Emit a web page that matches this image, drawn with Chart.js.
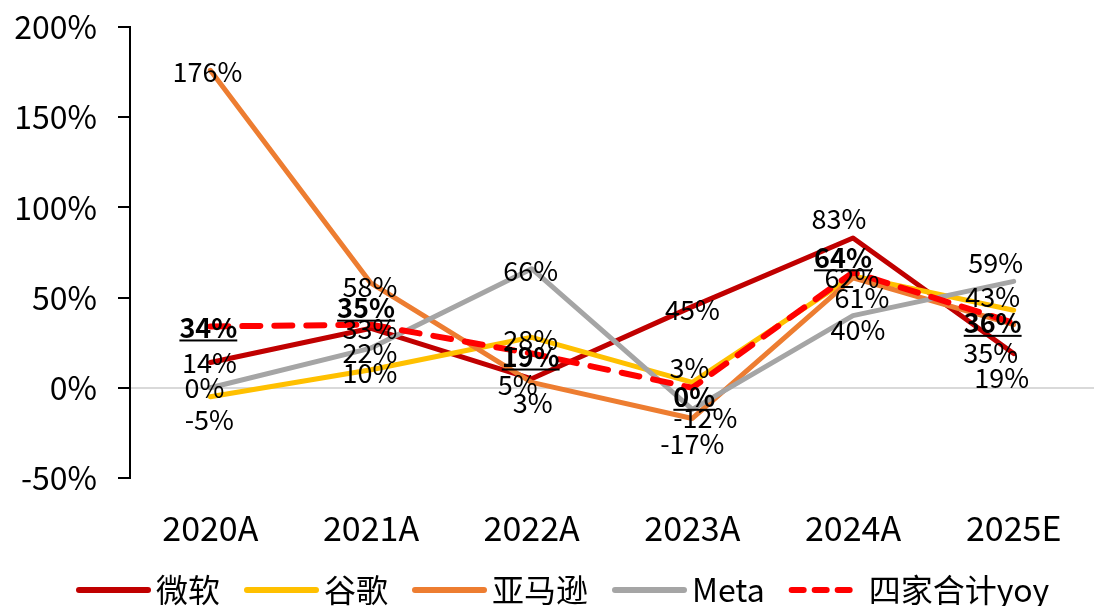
<!DOCTYPE html>
<html>
<head>
<meta charset="utf-8">
<script src="https://cdn.jsdelivr.net/npm/chart.js@4.4.1/dist/chart.umd.min.js"></script>
<style>
  html, body { margin: 0; padding: 0; background: #fff; }
  #wrap { width: 1094px; height: 606px; }
</style>
</head>
<body>
<div id="wrap"><canvas id="capexChart" width="1094" height="606"></canvas></div>
<script>
const years = ['2020A', '2021A', '2022A', '2023A', '2024A', '2025E'];
const msft = [14, 33, 5, 45, 83, 19];
const googl = [-5, 10, 28, 3, 62, 43];
const amzn = [176, 58, 3, -17, 61, 35];
const metaYoy = [0, 22, 66, -12, 40, 59];
const totalYoy = [34, 35, 19, 0, 64, 36];
const yTicks = [-50, 0, 50, 100, 150, 200];

const fontFamily = '"Noto Sans CJK SC", "Noto Sans", sans-serif';

// where each value label sits relative to its point (dx, dy), same order as the datasets
const labelShift = [
    [[-1, 0], [-1, 0], [-14, 6], [0, 3], [-14, -19], [-12, 24]],
    [[-1, 23], [-1, 3], [-1, 2], [-3, -15], [-1, 2], [-21, -13]],
    [[-3, 1], [-1, 4], [1, 20], [0, 25], [9, 20], [-23, 28]],
    [[-6, 0], [-1, 5], [-1, 2], [13, 8], [5, 14], [-18, -19]],
    [[-2, 1], [-5, -17], [-1, 3], [2, 9], [-10, -15], [-21, 0]]
];

// value labels on top of the lines
const pointLabels = {
    id: 'pointLabels',
    afterDatasetsDraw(chart) {
        const ctx = chart.ctx;
        ctx.save();
        ctx.textAlign = 'center';
        ctx.textBaseline = 'middle';
        ctx.fillStyle = '#000';
        chart.data.datasets.forEach((ds, i) => {
            const meta = chart.getDatasetMeta(i);
            ctx.font = (ds.strong ? 'bold ' : '') + '27px ' + fontFamily;
            meta.data.forEach((pt, j) => {
                const text = ds.data[j] + '%';
                const x = pt.x + labelShift[i][j][0];
                const y = pt.y + labelShift[i][j][1];
                ctx.fillText(text, x, y);
                if (ds.strong) {
                    const w = ctx.measureText(text).width;
                    ctx.fillRect(x - w / 2, y + 12, w, 2);
                }
            });
        });
        ctx.restore();
    }
};

// legend row at the bottom
const bottomLegend = {
    id: 'bottomLegend',
    afterDraw(chart) {
        const ctx = chart.ctx;
        const y = 590;
        let x = 79;
        ctx.save();
        ctx.font = '32px ' + fontFamily;
        ctx.textBaseline = 'middle';
        chart.data.datasets.forEach(ds => {
            ctx.beginPath();
            ctx.strokeStyle = ds.borderColor;
            ctx.lineWidth = 6;
            ctx.lineCap = 'round';
            ctx.setLineDash(ds.borderDash ? [12, 11] : []);
            ctx.moveTo(x, y);
            ctx.lineTo(x + 69, y);
            ctx.stroke();
            ctx.setLineDash([]);
            ctx.fillStyle = '#000';
            ctx.fillText(ds.label, x + 77, y);
            x += 77 + ctx.measureText(ds.label).width + 27;
        });
        ctx.restore();
    }
};

function line(label, data, color, order) {
    return {
        label: label,
        data: data,
        borderColor: color,
        backgroundColor: color,
        borderWidth: 5,
        borderCapStyle: 'round',
        borderJoinStyle: 'round',
        pointRadius: 0,
        tension: 0,
        order: order
    };
}

const total = line('四家合计yoy', totalYoy, '#FF0000', 0);
total.borderDash = [18, 14];
total.borderWidth = 6;
total.strong = true;

new Chart(document.getElementById('capexChart'), {
    type: 'line',
    data: {
        labels: years,
        datasets: [
            line('微软', msft, '#C00000', 4),
            line('谷歌', googl, '#FFC000', 3),
            line('亚马逊', amzn, '#ED7D31', 2),
            line('Meta', metaYoy, '#A5A5A5', 1),
            total
        ]
    },
    options: {
        responsive: false,
        animation: false,
        layout: { padding: { left: 0, right: -5, top: 27, bottom: 58 } },
        plugins: {
            legend: { display: false },
            tooltip: { enabled: false }
        },
        scales: {
            x: {
                offset: true,
                grid: { display: false, drawTicks: false, offset: true },
                border: { display: false },
                ticks: { color: '#000', padding: 30, font: { family: fontFamily, size: 34 } },
                afterFit: scale => { scale.height = 70; }
            },
            y: {
                min: -50,
                max: 200,
                afterBuildTicks: scale => { scale.ticks = yTicks.map(v => ({ value: v })); },
                grid: {
                    color: c => (c.tick && c.tick.value === 0) ? '#D9D9D9' : 'rgba(0,0,0,0)',
                    lineWidth: 2,
                    tickColor: '#000',
                    tickLength: 12,
                    tickWidth: 2
                },
                border: { color: '#000', width: 2 },
                ticks: {
                    color: '#000',
                    padding: 21,
                    font: { family: fontFamily, size: 32 },
                    callback: v => v + '%'
                },
                afterFit: scale => {
                    scale.width = 130;
                    scale.paddingTop = 0;
                    scale.paddingBottom = 0;
                }
            }
        }
    },
    plugins: [pointLabels, bottomLegend]
});
</script>
</body>
</html>
